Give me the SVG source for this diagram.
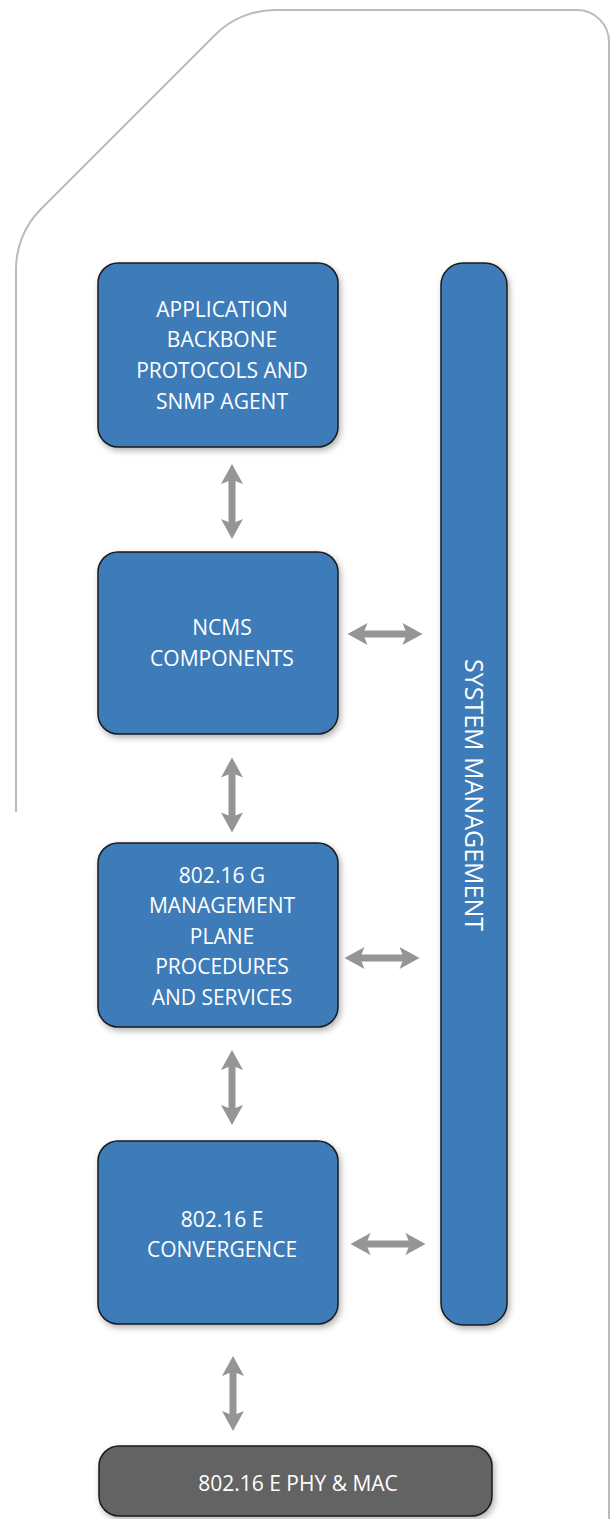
<svg xmlns="http://www.w3.org/2000/svg" xmlns:xlink="http://www.w3.org/1999/xlink" width="616" height="1519" viewBox="0 0 616 1519">
<style>
.box{fill:#3d7bb9;stroke:#1a1a1a;stroke-width:1.5;filter:url(#sh)}
.dark{fill:#646464;stroke:#1a1a1a;stroke-width:1.5;filter:url(#sh)}
.lbl{font-family:"Open Sans","Noto Sans",sans-serif;font-size:21px;fill:#ffffff;text-anchor:middle}
.arr{fill:#959595}
</style>
<defs>
<filter id="sh" x="-20%" y="-20%" width="140%" height="140%">
<feDropShadow dx="2" dy="3" stdDeviation="3" flood-color="#000" flood-opacity="0.3"/>
</filter>
<path id="av" d="M0,-37.5 L11,-17.5 L3.5,-20.5 L3.5,20.5 L11,17.5 L0,37.5 L-11,17.5 L-3.5,20.5 L-3.5,-20.5 L-11,-17.5 Z"/>
</defs>
<g id="outline">
<path d="M16,812 L16,269 A84.5,84.5 0 0 1 40.75,209.25 L215.25,34.75 A84.5,84.5 0 0 1 275,10 L577,10 A32,32 0 0 1 609,42 L609,1519" fill="none" stroke="#bbbbbb" stroke-width="2"/>
</g>
<g id="connectors" class="arr">
<use xlink:href="#av" transform="translate(232,501.5)"/>
<use xlink:href="#av" transform="translate(232,795)"/>
<use xlink:href="#av" transform="translate(232,1087.5)"/>
<use xlink:href="#av" transform="translate(233,1393.5)"/>
<use xlink:href="#av" transform="translate(385,634) rotate(90)"/>
<use xlink:href="#av" transform="translate(382,958) rotate(90)"/>
<use xlink:href="#av" transform="translate(388,1244) rotate(90)"/>
</g>
<g id="app">
<rect class="box" x="98" y="263" width="240" height="184" rx="20"/>
<text class="lbl"><tspan x="222" y="317">APPLICATION</tspan><tspan x="222" y="347">BACKBONE</tspan><tspan x="222" y="378">PROTOCOLS AND</tspan><tspan x="222" y="409">SNMP AGENT</tspan></text>
</g>
<g id="ncms">
<rect class="box" x="98" y="552" width="240" height="182" rx="20"/>
<text class="lbl"><tspan x="222" y="635">NCMS</tspan><tspan x="222" y="666">COMPONENTS</tspan></text>
</g>
<g id="mgmt">
<rect class="box" x="98" y="843" width="240" height="184" rx="20"/>
<text class="lbl"><tspan x="222" y="883">802.16 G</tspan><tspan x="222" y="913">MANAGEMENT</tspan><tspan x="222" y="944">PLANE</tspan><tspan x="222" y="974">PROCEDURES</tspan><tspan x="222" y="1005">AND SERVICES</tspan></text>
</g>
<g id="conv">
<rect class="box" x="98" y="1141" width="240" height="183" rx="20"/>
<text class="lbl"><tspan x="222" y="1227">802.16 E</tspan><tspan x="222" y="1257">CONVERGENCE</tspan></text>
</g>
<g id="sysmgmt">
<rect class="box" x="441" y="263" width="66" height="1062" rx="22"/>
<text class="lbl" style="font-size:25px" transform="translate(465,795) rotate(90)">SYSTEM MANAGEMENT</text>
</g>
<g id="phy">
<rect class="dark" x="99" y="1446" width="393" height="70" rx="20"/>
<text class="lbl" x="298" y="1491">802.16 E PHY &amp; MAC</text>
</g>
</svg>
